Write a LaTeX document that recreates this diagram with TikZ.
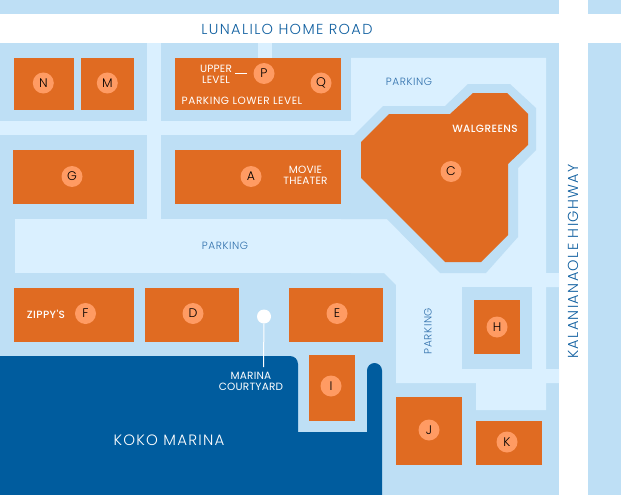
\documentclass[tikz,border=0pt]{standalone}
\usepackage{fontspec}
\usetikzlibrary{calc}
\setmainfont{Poppins Light}
\newfontfamily\roadfont[LetterSpace=9.5]{Poppins Light}
\newfontfamily\kokofont[LetterSpace=8.5]{Poppins Light}
\newfontfamily\parkfont[LetterSpace=5.5]{Poppins Light}
\newfontfamily\whitefont[LetterSpace=2]{Poppins}
\newfontfamily\strongfont[LetterSpace=4]{Poppins Medium}
\newfontfamily\lowerfont[LetterSpace=5.5]{Poppins}
\definecolor{bgblue}{HTML}{BEDFF5}
\definecolor{pale}{HTML}{DAF0FF}
\definecolor{bldg}{HTML}{E06B22}
\definecolor{badge}{HTML}{FF9B63}
\definecolor{marina}{HTML}{005C9E}
\definecolor{roadtext}{HTML}{0F5FA0}
\definecolor{parktext}{HTML}{2F6FAB}
\tikzset{
  bldgfill/.style={fill=bldg,draw=none},
  palefill/.style={fill=pale,draw=none},
  badgenode/.style={circle,fill=badge,draw=none,minimum size=21pt,inner sep=0pt,text=black,font=\fontsize{12.5}{12.5}\selectfont},
  roadlabel/.style={text=roadtext,inner sep=0pt,font=\roadfont\fontsize{14.5}{14.5}\selectfont},
  parklabel/.style={text=parktext,inner sep=0pt,font=\parkfont\fontsize{10.5}{10.5}\selectfont},
  whitelabel/.style={text=white,inner sep=0pt,align=center,font=\whitefont\fontsize{10.5}{11}\selectfont},
  stronglabel/.style={text=white,inner sep=0pt,font=\strongfont\fontsize{10.5}{11}\selectfont},
  kokolabel/.style={text=white,inner sep=0pt,font=\kokofont\fontsize{15}{15}\selectfont},
  whiteline/.style={draw=white,line width=1pt}
}
\begin{document}
\begin{tikzpicture}[x=1pt,y=-1pt]
\useasboundingbox (0,0) rectangle (621,495);
\fill[bgblue] (0,0) rectangle (621,495);
% roads
\fill[white] (0,14) rectangle (621,43);
\fill[white] (559,0) rectangle (588,495);
% pale lanes and parking
\fill[palefill] (147,43) rectangle (161,219);
\fill[palefill] (258,43) rectangle (272,58);
\fill[palefill] (0,121) rectangle (365,135);
\fill[palefill] (15,219) rectangle (450,273);
\fill[palefill] (351,58) -- (546,58) -- (546,273) -- (559,273) -- (559,287) -- (546,287) -- (546,369) -- (559,369) -- (559,383) -- (546,383) -- (546,410) -- (476,410) -- (476,383) -- (396,383) -- (396,285) -- (384,273) -- (351,273) -- cycle;
% halo round C and block round H
\fill[bgblue] (354,135) -- (383,106) -- (445,106) -- (468,84) -- (510,84) -- (536,108) -- (536,150) -- (518,168) -- (518,237) -- (486,273) -- (440,273) -- (387,219) -- (341,219) -- (341,135) -- cycle;
\fill[bgblue] (341,58) rectangle (351,121);
\fill[bgblue] (462,287) rectangle (532,369);
% water
\fill[marina] (0,356) -- (290,356) .. controls (294.4,356) and (298,359.6) .. (298,364) -- (298,432) -- (367,432) -- (367,370.5) .. controls (367,366.4) and (370.4,363) .. (374.5,363) .. controls (378.6,363) and (382,366.4) .. (382,370.5) -- (382,495) -- (0,495) -- cycle;
% buildings
\fill[bldgfill] (14,58) rectangle (74,110);
\fill[bldgfill] (81,58) rectangle (134,110);
\fill[bldgfill] (175,58) rectangle (341,110);
\fill[bldgfill] (13,150) rectangle (134,204);
\fill[bldgfill] (175,150) rectangle (341,204);
\fill[bldgfill] (361,142) -- (389,114) -- (450,114) -- (473,93) -- (507,93) -- (528,114) -- (528,145) -- (508,164) -- (508,235) -- (481,262) -- (445,262) -- (361,178) -- cycle;
\fill[bldgfill] (14,288) rectangle (134,342);
\fill[bldgfill] (145,288) rectangle (239,342);
\fill[bldgfill] (289,288) rectangle (383,342);
\fill[bldgfill] (309,355) rectangle (355,421);
\fill[bldgfill] (396,397) rectangle (462,465);
\fill[bldgfill] (476,421) rectangle (542,465);
\fill[bldgfill] (474,300) rectangle (520,354);
% badges
\node[badgenode] (n) at (43.3,83) {N};
\node[badgenode] (m) at (107.3,83) {M};
\node[badgenode] (p) at (264,73.5) {P};
\node[badgenode] (q) at (321,83) {Q};
\node[badgenode] (g) at (72,176.5) {G};
\node[badgenode] (a) at (251,176.5) {A};
\node[badgenode] (c) at (451,171.5) {C};
\node[badgenode] (f) at (85.5,313.5) {F};
\node[badgenode] (d) at (193,313.5) {D};
\node[badgenode] (e) at (337,313.5) {E};
\node[badgenode] (h) at (497,327) {H};
\node[badgenode] (i) at (331,386) {I};
\node[badgenode] (j) at (429,430) {J};
\node[badgenode] (k) at (507,442) {K};
% labels
\node[roadlabel] (lunalilo) at (287,29) {LUNALILO HOME ROAD};
\node[roadlabel,rotate=90] (kal) at (573,261.5) {KALANIANAOLE HIGHWAY};
\node[parklabel] (p1) at (409,82) {PARKING};
\node[parklabel] (p2) at (225,246) {PARKING};
\node[parklabel,rotate=90] (p3) at (428,331) {PARKING};
\node[whitelabel] (upper) at (216,74.5) {UPPER\\LEVEL};
\node[whitelabel,font=\lowerfont\fontsize{10.5}{11}\selectfont] (lower) at (242,101) {PARKING LOWER LEVEL};
\node[whitelabel] (movie) at (305.5,175.5) {MOVIE\\THEATER};
\node[stronglabel] (walg) at (485,129) {WALGREENS};
\node[stronglabel] (zippy) at (46,314) {ZIPPY'S};
\node[whitelabel] (court) at (251,381) {MARINA\\COURTYARD};
\node[kokolabel] (koko) at (169,440) {KOKO MARINA};
% connectors
\coordinate (upperstart) at (235,74);
\coordinate (upperend) at (247,74);
\draw[whiteline] (upperstart) -- (upperend);
\node[circle,fill=white,draw=none,minimum size=14pt,inner sep=0pt] (dot) at (264,316.5) {};
\coordinate (courtend) at (263.5,367);
\draw[whiteline] (dot) -- (courtend);
\end{tikzpicture}
\end{document}
